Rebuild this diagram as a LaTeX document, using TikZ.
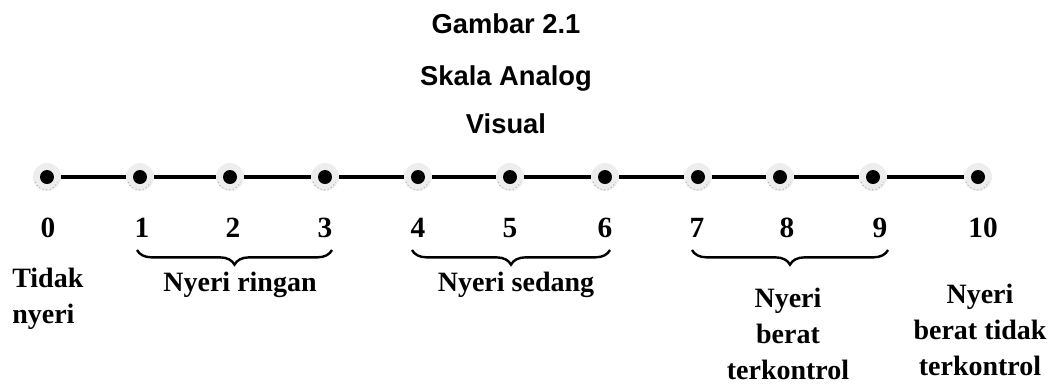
\documentclass[tikz,border=0pt]{standalone}
\usepackage{fontspec}
\setmainfont{Liberation Serif}
\setsansfont{Liberation Sans}
\usetikzlibrary{decorations.pathreplacing}

\tikzset{
  halo/.style={circle, fill=black!7, minimum size=21pt, inner sep=0pt},
  core/.style={circle, fill=black, minimum size=10.5pt, inner sep=0pt},
  scaleline/.style={line width=2.3pt},
  numlabel/.style={font=\bfseries\fontsize{22}{26}\selectfont, inner sep=0pt, anchor=base},
  bandlabel/.style={font=\bfseries\fontsize{21}{27}\selectfont, inner sep=0pt, align=center},
  titletext/.style={font=\sffamily\bfseries\fontsize{20.5}{24}\selectfont, inner sep=0pt, anchor=base},
  bandbrace/.style={line width=1.8pt, decorate, decoration={brace, mirror, amplitude=11pt}},
  speckle/.style={black!35, line width=0.7pt, dotted}
}

\begin{document}
\begin{tikzpicture}[x=0.75pt, y=-0.75pt]
  \useasboundingbox (0,0) rectangle (1051,387);

  % heading
  \node[titletext] (t1) at (506,33) {Gambar 2.1};
  \node[titletext] (t2) at (506,85) {Skala Analog};
  \node[titletext] (t3) at (506,133) {Visual};

  % points of the scale
  \foreach \i/\x in {0/47,1/140,2/230,3/325,4/418,5/510,6/605,7/698,8/780,9/873,10/978} {
    \node[halo] (d\i) at (\x,177) {};
  }
  % connecting line
  \foreach \i [evaluate=\i as \j using int(\i+1)] in {0,...,9} {
    \draw[scaleline] (d\i) -- (d\j);
  }
  % dots and their speckled shadow
  \foreach \i in {0,...,10} {
    \draw[speckle] ([shift={(-12,5)}]d\i.center) arc[start angle=200, end angle=340, radius=9pt];
    \node[core] (c\i) at (d\i.center) {};
  }

  % numbers
  \foreach \i/\x in {0/48,1/142,2/233,3/325,4/418,5/510,6/605,7/697,8/787,9/880,10/983} {
    \node[numlabel] (n\i) at (\x,237) {\i};
  }

  % braces grouping the ranges
  \coordinate (b1s) at (137,250); \coordinate (b1e) at (332,250);
  \coordinate (b2s) at (412,250); \coordinate (b2e) at (610,250);
  \coordinate (b3s) at (692,250); \coordinate (b3e) at (888,250);
  \draw[bandbrace] (b1s) -- (b1e);
  \draw[bandbrace] (b2s) -- (b2e);
  \draw[bandbrace] (b3s) -- (b3e);

  % range labels
  \node[bandlabel, align=left, anchor=north west] (l0) at (12,268) {Tidak\\nyeri};
  \node[bandlabel, anchor=base] (l1) at (240,291) {Nyeri ringan};
  \node[bandlabel, anchor=base] (l2) at (516,291) {Nyeri sedang};
  \node[bandlabel, anchor=north] (l3) at (788,288) {Nyeri\\berat\\terkontrol};
  \node[bandlabel, anchor=north] (l4) at (980,284) {Nyeri\\berat tidak\\terkontrol};
\end{tikzpicture}
\end{document}
